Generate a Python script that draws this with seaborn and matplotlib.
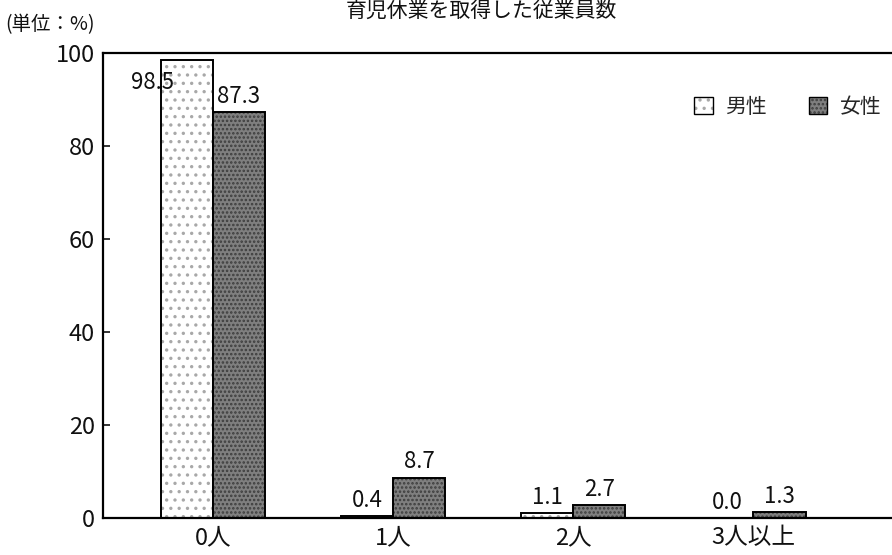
import matplotlib
matplotlib.use("Agg")
import matplotlib.pyplot as plt
from matplotlib.colors import to_rgba
from matplotlib.patches import Patch
import seaborn as sns
import pandas as pd

categories = ["0人", "1人", "2人", "3人以上"]
male = [98.5, 0.4, 1.1, 0.0]
female = [87.3, 8.7, 2.7, 1.3]
series = ["男性", "女性"]
title = "育児休業を取得した従業員数"
unit_label = "(単位：%)"

sns.set_theme(style="white")
plt.rcParams["font.family"] = ["Noto Sans CJK JP", "DejaVu Sans"]
plt.rcParams["hatch.linewidth"] = 1.2

df = pd.DataFrame({
    "cat": categories * 2,
    "sex": [series[0]] * len(categories) + [series[1]] * len(categories),
    "val": male + female,
})

fig = plt.figure(figsize=(8.92, 5.55), dpi=100)
ax = fig.add_axes([103 / 892, 1 - 518 / 555, 1 - 103 / 892, (518 - 53) / 555])

sns.barplot(data=df, x="cat", y="val", hue="sex", order=categories,
            hue_order=series, width=0.58, ax=ax, legend=False,
            palette=["white", "#7d7d7d"], saturation=1)

styles = [
    dict(face="white", hatch="..", hcolor="#a8a8a8"),
    dict(face="#7f7f7f", hatch="....", hcolor="#3d3d3d"),
]


def style_patch(p, st, lw):
    p.set_facecolor(st["face"])
    p.set_edgecolor("black")
    p.set_linewidth(lw)
    p.set_hatch(st["hatch"])
    p._hatch_color = to_rgba(st["hcolor"])


for cont, st in zip(ax.containers, styles):
    for bar in cont:
        style_patch(bar, st, 1.4)

# value labels above each bar; the tallest one is tucked to the left
for cont, vals in zip(ax.containers, [male, female]):
    for bar, v in zip(cont, vals):
        cx = bar.get_x() + bar.get_width() / 2
        if v > 95:
            ax.annotate(f"{v:.1f}", (cx, v), xytext=(-25, -16),
                        textcoords="offset points", ha="center", va="center",
                        fontsize=16, color="#111")
        else:
            ax.annotate(f"{v:.1f}", (cx, v), xytext=(0, 3),
                        textcoords="offset points", ha="center", va="bottom",
                        fontsize=16, color="#111")

ax.set_ylim(0, 100)
ax.set_xlim(-0.61, 3.77)
ax.set_yticks([0, 20, 40, 60, 80, 100])
ax.set_xlabel("")
ax.set_ylabel("")
ax.tick_params(axis="y", direction="in", length=5, width=1.2, left=True,
               labelsize=17, pad=6, colors="#111")
ax.tick_params(axis="x", length=0, labelsize=17, pad=6, colors="#111")
for s in ["left", "bottom", "top"]:
    ax.spines[s].set_visible(True)
    ax.spines[s].set_color("black")
    ax.spines[s].set_linewidth(1.6)
ax.spines["right"].set_visible(False)

handles = []
for st in styles:
    h = Patch()
    style_patch(h, st, 1.0)
    handles.append(h)
ax.legend(handles, series, loc="center", bbox_to_anchor=(0.868, 0.884),
          ncol=2, frameon=False, fontsize=15, handlelength=0.9,
          handleheight=0.9, columnspacing=2.0, handletextpad=0.6)

fig.text(481 / 892, 1.0, title, ha="center", va="top",
         fontsize=15, color="#111")
fig.text(5 / 892, 1 - 25 / 555, unit_label, ha="left", va="center",
         fontsize=14, color="#111")

fig.savefig("out.png", dpi=100)
